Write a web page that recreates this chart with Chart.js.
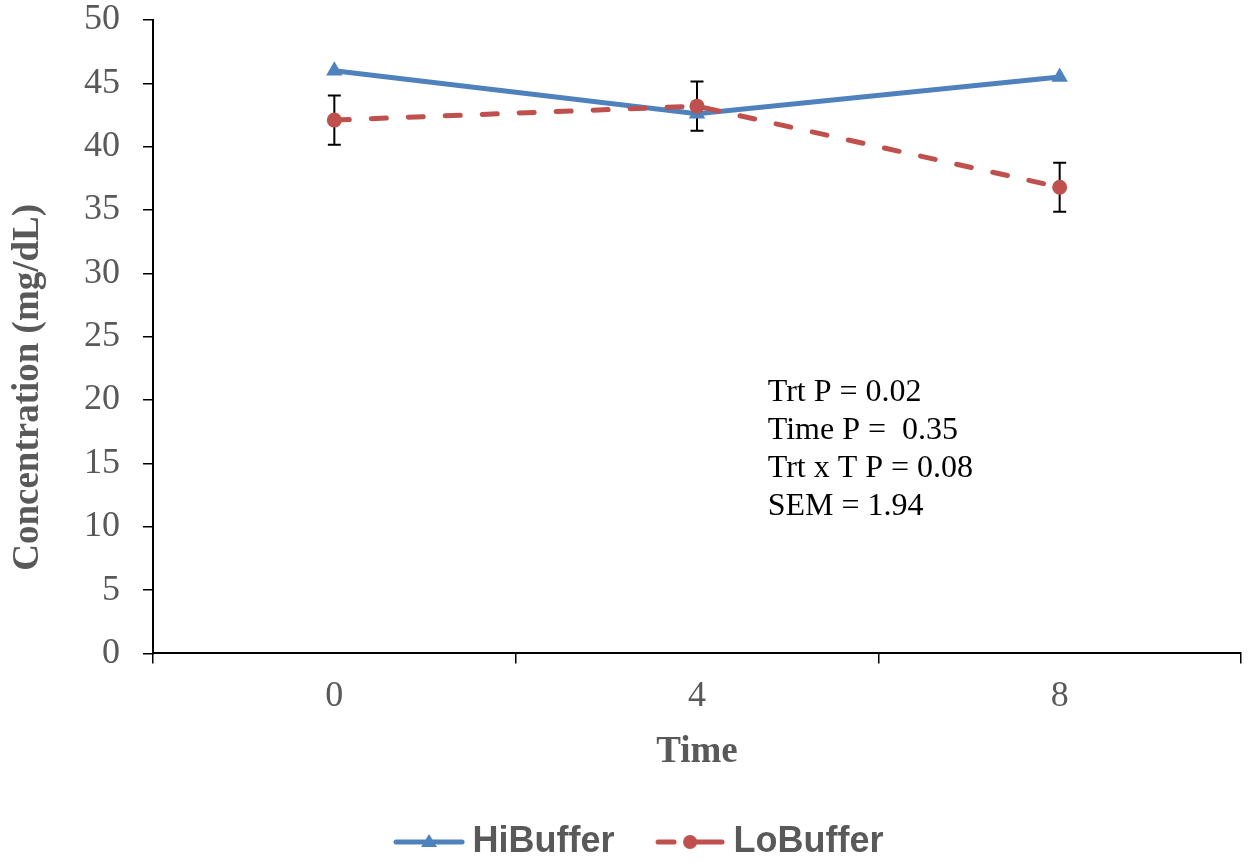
<!DOCTYPE html>
<html>
<head>
<meta charset="utf-8">
<script src="https://cdn.jsdelivr.net/npm/chart.js@4/dist/chart.umd.min.js"></script>
<style>
  html, body { margin: 0; padding: 0; background: #fff; }
  #wrap { width: 1254px; height: 864px; }
</style>
</head>
<body>
<div id="wrap"><canvas id="chart" width="1254" height="864"></canvas></div>
<script>
// data
const timeLabels = ['0', '4', '8'];
const hiBuffer = [46.0, 42.6, 45.5];
const loBuffer = [42.1, 43.2, 36.8];
const loSem = [1.94, 1.94, 1.94];
const statLines = ['Trt P = 0.02', 'Time P =  0.35', 'Trt x T P = 0.08', 'SEM = 1.94'];
const yTitle = 'Concentration (mg/dL)';

const HI_COLOR = '#4F81BD';
const LO_COLOR = '#C0504D';
const GREY = '#595959';
const SERIF = '"Liberation Serif", "Times New Roman", serif';

// legend symbol: line with a marker in the middle
function legendSymbol(color, marker, dashed) {
    const c = document.createElement('canvas');
    c.width = 72; c.height = 20;
    const g = c.getContext('2d');
    g.strokeStyle = color;
    g.fillStyle = color;
    g.lineWidth = 5;
    g.lineCap = 'round';
    if (dashed) {
        g.beginPath(); g.moveTo(4, 10); g.lineTo(20, 10); g.stroke();
        g.beginPath(); g.moveTo(36, 10); g.lineTo(68, 10); g.stroke();
    } else {
        g.beginPath(); g.moveTo(3, 10); g.lineTo(69, 10); g.stroke();
    }
    g.beginPath();
    if (marker === 'triangle') {
        g.moveTo(36, 2); g.lineTo(44, 15); g.lineTo(28, 15); g.closePath();
    } else {
        g.arc(36, 10, 7, 0, Math.PI * 2);
    }
    g.fill();
    return c;
}

const errorBars = {
    id: 'errorBars',
    beforeDatasetsDraw(chart) {
        const { ctx, scales: { y } } = chart;
        const meta = chart.getDatasetMeta(1);
        ctx.save();
        ctx.strokeStyle = '#000';
        ctx.lineWidth = 2;
        meta.data.forEach((pt, i) => {
            const top = y.getPixelForValue(loBuffer[i] + loSem[i]);
            const bot = y.getPixelForValue(loBuffer[i] - loSem[i]);
            ctx.beginPath();
            ctx.moveTo(pt.x, top); ctx.lineTo(pt.x, bot);
            ctx.moveTo(pt.x - 6.5, top); ctx.lineTo(pt.x + 6.5, top);
            ctx.moveTo(pt.x - 6.5, bot); ctx.lineTo(pt.x + 6.5, bot);
            ctx.stroke();
        });
        ctx.restore();
    }
};

// stats box and the rotated y title
const extraText = {
    id: 'extraText',
    afterDraw(chart) {
        const { ctx, chartArea, scales: { y } } = chart;
        ctx.save();
        ctx.font = '32px ' + SERIF;
        ctx.fillStyle = '#000';
        ctx.textBaseline = 'middle';
        const x = chartArea.left + (chartArea.right - chartArea.left) * 0.565;
        let yy = y.getPixelForValue(20.6);
        statLines.forEach(line => {
            ctx.fillText(line, x, yy);
            yy += 38;
        });

        ctx.translate(28, y.getPixelForValue(21));
        ctx.rotate(-Math.PI / 2);
        ctx.font = 'bold 37px ' + SERIF;
        ctx.fillStyle = GREY;
        ctx.textAlign = 'center';
        ctx.fillText(yTitle, 0, 0);
        ctx.restore();
    }
};

new Chart(document.getElementById('chart'), {
    type: 'line',
    data: {
        labels: timeLabels,
        datasets: [
            {
                label: 'HiBuffer',
                data: hiBuffer,
                borderColor: HI_COLOR,
                backgroundColor: HI_COLOR,
                borderWidth: 5,
                pointStyle: 'triangle',
                pointRadius: 9.5,
                pointBorderWidth: 0,
                tension: 0,
                order: 1
            },
            {
                label: 'LoBuffer',
                data: loBuffer,
                borderColor: LO_COLOR,
                backgroundColor: LO_COLOR,
                borderWidth: 5,
                borderDash: [15, 22],
                borderCapStyle: 'round',
                pointStyle: 'circle',
                pointRadius: 7.5,
                pointBorderWidth: 0,
                tension: 0,
                order: 0
            }
        ]
    },
    options: {
        responsive: false,
        animation: false,
        layout: { padding: { top: 20, right: 13, left: 46, bottom: -6 } },
        scales: {
            x: {
                offset: true,
                grid: {
                    offset: true,
                    drawOnChartArea: false,
                    drawTicks: true,
                    tickLength: 10,
                    color: '#000',
                    lineWidth: 1.5
                },
                border: { color: '#000', width: 2 },
                ticks: {
                    color: GREY,
                    font: { family: SERIF, size: 36 },
                    padding: 12
                },
                title: {
                    display: true,
                    text: 'Time',
                    color: GREY,
                    font: { family: SERIF, size: 37, weight: 'bold' },
                    padding: { top: 0, bottom: -1 }
                }
            },
            y: {
                min: 0,
                max: 50,
                ticks: {
                    stepSize: 5,
                    color: GREY,
                    font: { family: SERIF, size: 36 },
                    padding: 23
                },
                grid: {
                    drawOnChartArea: false,
                    drawTicks: true,
                    tickLength: 10,
                    color: '#000',
                    lineWidth: 1.5
                },
                border: { color: '#000', width: 2 },
                afterFit(scale) {
                    scale.width = 153 - 46;
                    scale.paddingTop = 0;
                    scale.paddingBottom = 0;
                }
            }
        },
        plugins: {
            legend: {
                position: 'bottom',
                labels: {
                    usePointStyle: true,
                    pointStyleWidth: 51,
                    color: GREY,
                    font: { family: '"Liberation Sans", Arial, sans-serif', size: 36, weight: 'bold' },
                    padding: 50,
                    generateLabels(chart) {
                        return chart.data.datasets.map((ds, i) => ({
                            text: ds.label,
                            datasetIndex: i,
                            fontColor: GREY,
                            pointStyle: i === 0 ? legendSymbol(HI_COLOR, 'triangle', false)
                                                : legendSymbol(LO_COLOR, 'circle', true),
                            lineWidth: 0,
                            hidden: false
                        }));
                    }
                }
            },
            tooltip: { enabled: false }
        }
    },
    plugins: [errorBars, extraText]
});
</script>
</body>
</html>
